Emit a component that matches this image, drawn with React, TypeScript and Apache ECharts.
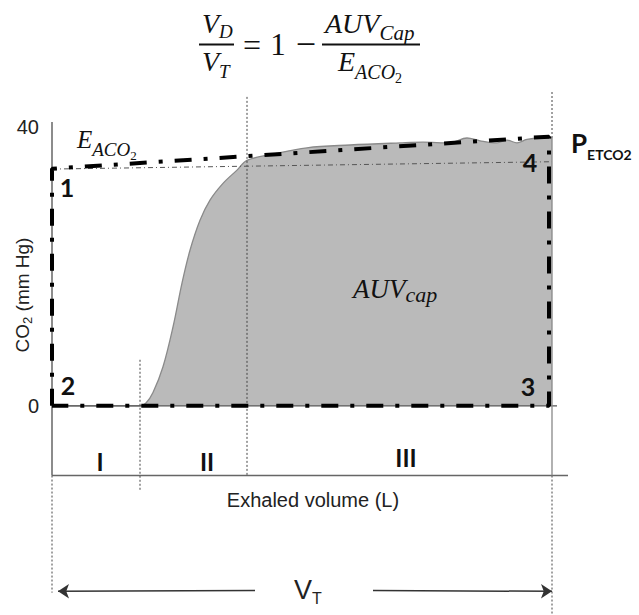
import React, { useEffect, useRef } from "react";
import * as echarts from "echarts";

// ---- data (volume in L, CO2 in mmHg) ----
const curveX = [0, 0.03, 0.06, 0.088, 0.094, 0.101, 0.111, 0.121, 0.13, 0.138, 0.148, 0.158, 0.171, 0.185, 0.195, 0.218, 0.255, 0.298, 0.348, 0.371, 0.398, 0.415, 0.428, 0.445, 0.455, 0.465, 0.475, 0.491, 0.5];
const curveY = [0, 0, 0, 0, 0.4, 1.9, 5.6, 11.3, 17.6, 22.3, 26.6, 29.5, 31.9, 33.8, 35.2, 36.0, 37.0, 37.4, 37.7, 37.8, 37.7, 38.4, 38.0, 37.7, 38.1, 37.7, 38.2, 38.4, 38.4];

const eaco2X = [0, 0, 0.195, 0.497, 0.497, 0];
const eaco2Y = [0, 34.0, 35.8, 38.6, 0, 0];

const petLineX = [0, 0.5];
const petLineY = [33.95, 35.0];

const phaseBounds = [0.088, 0.195];
const endVolume = 0.5;
const yTickLabels = [0, 40];
const yMin = -30;
const yMax = 45;
const xMax = 0.52;
const phaseLabels = ["I", "II", "III"];
const cornerLabels = ["1", "2", "3", "4"];

const zip = (xs: number[], ys: number[]) => xs.map((x, i) => [x, ys[i]]);

const SERIF = "'Liberation Serif', 'Times New Roman', serif";
const SANS = "'Liberation Sans', Arial, sans-serif";
const BOLD = "Lato, 'Open Sans', sans-serif";

function seg(points: number[][], lineStyle: any, z = 2, extra: any = {}) {
  return {
    type: "line",
    data: points,
    symbol: "none",
    silent: true,
    z,
    lineStyle,
    ...extra,
  };
}

function rich(parts: [string, string][]) {
  return parts.map(([k, t]) => `{${k}|${t}}`).join("");
}

export default function App() {
  const ref = useRef<HTMLDivElement>(null);

  useEffect(() => {
    if (!ref.current) return;
    const chart = echarts.init(ref.current, undefined, { renderer: "svg" });

    const dotted = { color: "#444", width: 1, type: [2, 2] };
    const axisLine = { color: "#666", width: 1.5, type: "solid" };

    const serifRich = (b: number, s: number, sp: number, ss?: number, ssp?: number) => ({
      b: { fontFamily: SERIF, fontStyle: "italic", fontSize: b, fill: "#111" },
      s: { fontFamily: SERIF, fontStyle: "italic", fontSize: s, fill: "#111", padding: [sp, 0, 0, 0] },
      ss: { fontFamily: SERIF, fontSize: ss || 12, fill: "#111", padding: [ssp || 0, 0, 0, 0] },
    });

    const txt = (x: number, y: number, text: string, style: any, extra: any = {}) => ({
      type: "text",
      x,
      y,
      silent: true,
      z: 100,
      ...extra,
      style: { text, fill: "#111", align: "center", verticalAlign: "middle", textAlign: "center", textVerticalAlign: "middle", ...style },
    });

    const option: any = {
      animation: false,
      grid: { left: 52, width: 520, top: 92, height: 523.5 },
      xAxis: { type: "value", min: 0, max: xMax, show: false },
      yAxis: {
        type: "value",
        min: yMin,
        max: yMax,
        interval: 10,
        splitLine: { show: false },
        axisLine: { show: false },
        axisTick: { show: false },
        axisLabel: {
          margin: 13,
          fontSize: 20,
          fontFamily: SANS,
          color: "#222",
          formatter: (v: number) => (yTickLabels.includes(v) ? String(v) : ""),
        },
      },
      series: [
        {
          type: "line",
          data: zip(curveX, curveY),
          symbol: "none",
          smooth: 0.35,
          silent: true,
          z: 1,
          lineStyle: { color: "#8a8a8a", width: 1.3 },
          areaStyle: { color: "#bababa", opacity: 1, origin: 0 },
        },
        // axis lines
        seg([[0, 40.7], [0, -10]], axisLine, 3),
        seg([[0, -10], [0.516, -10]], axisLine, 3, {
          markLine: {
            silent: true,
            symbol: ["none", "none"],
            symbolSize: 11,
            lineStyle: { color: "#333", width: 1.5, type: "solid" },
            label: { show: false },
            emphasis: { disabled: true },
            data: [
              [
                { coord: [0.006, -26.6], symbol: "arrow" },
                { coord: [0.203, -26.5], symbol: "none" },
              ],
              [
                { coord: [0.321, -26.5], symbol: "none" },
                { coord: [endVolume, -26.6], symbol: "arrow" },
              ],
            ],
          },
        }),
        seg([[0, 0], [0.505, 0]], { color: "#555", width: 1.2 }, 3),
        seg([[endVolume, 38.4], [endVolume, -10]], { color: "#888", width: 1.3 }, 3),
        // dotted guides
        seg([[0, -10], [0, -26.8]], dotted, 2),
        seg([[phaseBounds[0], 6.6], [phaseBounds[0], -12.3]], dotted, 2),
        seg([[phaseBounds[1], 44.3], [phaseBounds[1], -10]], dotted, 2),
        seg([[endVolume, 45], [endVolume, 38.4]], dotted, 2),
        seg([[endVolume, -10], [endVolume, -30]], dotted, 2),
        // thin dash-dot PETCO2 level
        seg(zip(petLineX, petLineY), { color: "#555", width: 1, type: [5, 3, 1, 3] }, 4),
        // thick dash-dot EACO2 polygon
        seg(zip(eaco2X, eaco2Y), { color: "#000", width: 4, type: [17, 12, 4, 12], cap: "butt" }, 5),
      ],
      graphic: [
        // formula
        txt(202, 23, rich([["b", "V"], ["s", "D"]]), { align: "left", textAlign: "left", rich: serifRich(28, 19, 16) }),
        { type: "line", silent: true, shape: { x1: 199, y1: 44.5, x2: 234, y2: 44.5 }, style: { stroke: "#111", lineWidth: 2 } },
        txt(202, 61, rich([["b", "V"], ["s", "T"]]), { align: "left", textAlign: "left", rich: serifRich(28, 19, 20) }),
        txt(252, 45, "=", { fontFamily: SERIF, fontSize: 32 }),
        txt(278, 44, "1", { fontFamily: SERIF, fontSize: 31 }),
        txt(306, 44, "\u2212", { fontFamily: SERIF, fontSize: 36 }),
        { type: "line", silent: true, shape: { x1: 322, y1: 44.5, x2: 420, y2: 44.5 }, style: { stroke: "#111", lineWidth: 2 } },
        txt(325, 23, rich([["b", "AUV"], ["s", "Cap"]]), { align: "left", textAlign: "left", rich: serifRich(28, 21, 20) }),
        txt(338, 61, rich([["b", "E"], ["s", "ACO"], ["ss", "2"]]), { align: "left", textAlign: "left", rich: serifRich(28, 20, 22, 14, 34) }),
        // chart annotations
        txt(77, 139, rich([["b", "E"], ["s", "ACO"], ["ss", "2"]]), { align: "left", textAlign: "left", rich: serifRich(25, 19, 20, 13, 32) }),
        txt(353, 289, rich([["b", "AUV"], ["s", "cap"]]), { align: "left", textAlign: "left", rich: serifRich(27, 22, 10) }),
        txt(571, 143, rich([["b", "P"], ["s", "ETCO2"]]), {
          align: "left",
          textAlign: "left",
          rich: {
            b: { fontFamily: BOLD, fontWeight: "bold", fontSize: 26, fill: "#111" },
            s: { fontFamily: BOLD, fontWeight: "bold", fontSize: 14, fill: "#111", padding: [22, 0, 0, 0] },
          },
        }),
        txt(67, 187, cornerLabels[0], { fontFamily: BOLD, fontWeight: "bold", fontSize: 25 }),
        txt(68, 385, cornerLabels[1], { fontFamily: BOLD, fontWeight: "bold", fontSize: 25 }),
        txt(528, 386, cornerLabels[2], { fontFamily: BOLD, fontWeight: "bold", fontSize: 25 }),
        txt(530, 162, cornerLabels[3], { fontFamily: BOLD, fontWeight: "bold", fontSize: 25 }),
        txt(100, 461, phaseLabels[0], { fontFamily: BOLD, fontWeight: "bold", fontSize: 24 }),
        txt(207, 461, phaseLabels[1], { fontFamily: BOLD, fontWeight: "bold", fontSize: 24 }),
        txt(406, 457, phaseLabels[2], { fontFamily: BOLD, fontWeight: "bold", fontSize: 24 }),
        txt(313, 500, "Exhaled volume (L)", { fontFamily: SANS, fontSize: 20, fill: "#222" }),
        txt(294, 590, rich([["b", "V"], ["s", "T"]]), {
          align: "left",
          textAlign: "left",
          rich: {
            b: { fontFamily: SANS, fontSize: 27, fill: "#222" },
            s: { fontFamily: SANS, fontSize: 16, fill: "#222", padding: [16, 0, 0, 0] },
          },
        }),
        txt(22, 295, rich([["n", "CO"], ["s", "2"], ["n", " (mm Hg)"]]), {
          rich: {
            n: { fontFamily: SANS, fontSize: 19, fill: "#222" },
            s: { fontFamily: SANS, fontSize: 13, fill: "#222", padding: [10, 0, 0, 0] },
          },
        }, { rotation: Math.PI / 2 }),
      ],
    };

    chart.setOption(option);
    return () => chart.dispose();
  }, []);

  return (
    <div
      ref={ref}
      style={{ position: "fixed", left: 0, top: 0, width: 639, height: 615, background: "#fff" }}
    />
  );
}
